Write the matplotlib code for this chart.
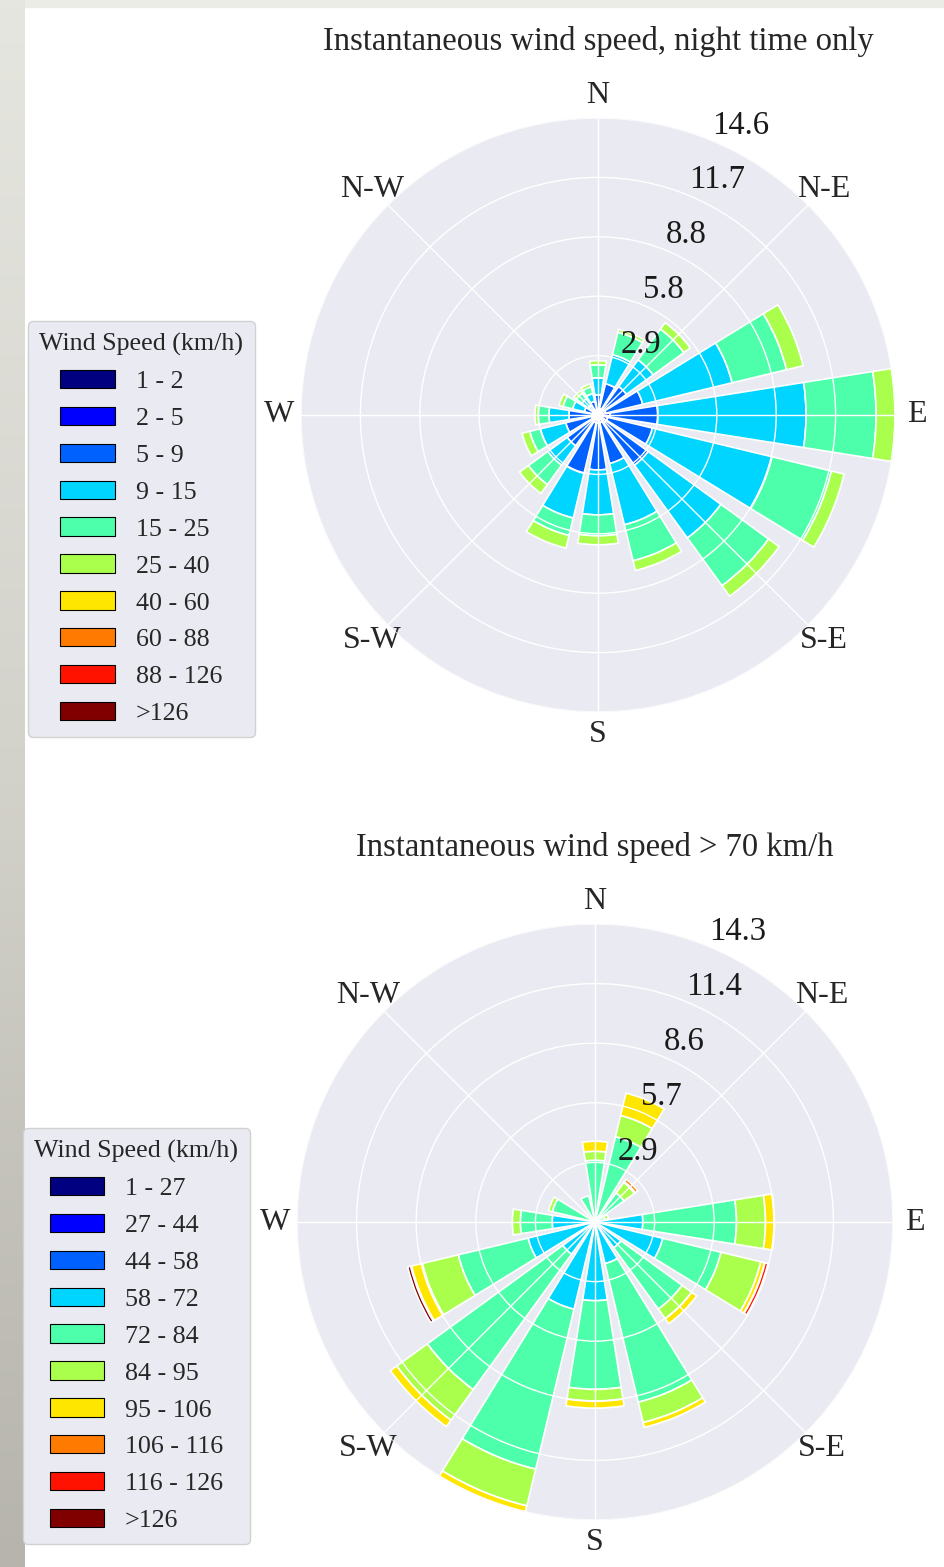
import numpy as np
import matplotlib.pyplot as plt
from matplotlib.patches import Patch, Rectangle
from matplotlib.colors import LinearSegmentedColormap

plt.rcParams['font.family'] = ['Liberation Serif', 'DejaVu Serif']
plt.rcParams['text.color'] = '0.15'
plt.rcParams['xtick.color'] = '0.15'

DIRECTIONS = ['N', 'NNE', 'NE', 'ENE', 'E', 'ESE', 'SE', 'SSE',
              'S', 'SSW', 'SW', 'WSW', 'W', 'WNW', 'NW', 'NNW']
COMPASS_LABELS = ['N', 'N-E', 'E', 'S-E', 'S', 'S-W', 'W', 'N-W']

# --- night time only: frequency (%) per speed bin, one value per direction ---
NIGHT_LABELS = ['1 - 2', '2 - 5', '5 - 9', '9 - 15', '15 - 25',
                '25 - 40', '40 - 60', '60 - 88', '88 - 126', '>126']
night_1_2 = [.10, .10, .10, .10, .15, .15, .15, .10, .10, .10, .10, .10, .10, .10, .10, .10]
night_2_5 = [.20, .20, .25, .29, .44, .34, .34, .29, .29, .29, .20, .20, .20, .15, .15, .15]
night_5_9 = [.69, 1.28, 1.38, 1.87, 2.36, 2.26, 2.56, 2.06, 2.31, 2.56, 1.57, 1.33, 1.13, .44, .34, .44]
night_9_15 = [.84, 1.47, 1.62, 4.52, 7.28, 6.05, 4.42, 3.10, 2.21, 2.26, 1.18, 1.28, .98, .59, .39, .39]
night_15_25 = [.64, 1.13, 1.87, 2.75, 3.44, 3.00, 2.90, 1.82, 1.03, .88, 1.18, .54, .54, .49, .34, .34]
night_25_40 = [.20, .15, .39, .84, .93, .64, .64, .49, .44, .64, .54, .39, .15, .20, .15, .15]
night_40_60 = [0] * 16
night_60_88 = [0] * 16
night_88_126 = [0] * 16
night_126 = [0] * 16
NIGHT = [night_1_2, night_2_5, night_5_9, night_9_15, night_15_25,
         night_25_40, night_40_60, night_60_88, night_88_126, night_126]

# --- gusts > 70 km/h ---
GUST_LABELS = ['1 - 27', '27 - 44', '44 - 58', '58 - 72', '72 - 84',
               '84 - 95', '95 - 106', '106 - 116', '116 - 126', '>126']
gust_1_27 = [0] * 16
gust_27_44 = [0] * 16
gust_44_58 = [0] * 16
gust_58_72 = [0, 0, 0, 0, 2.29, 3.34, 1.53, 2.05, 3.77, 4.30, 1.91, 3.30, 2.05, .24, 0, .14]
gust_72_84 = [2.96, 4.20, 1.72, .48, 4.49, 2.87, 3.63, 6.83, 4.25, 7.88, 8.02, 3.44, 1.53, 1.86, .20, 1.15]
gust_84_95 = [.43, 1.05, .62, .19, 1.39, 1.96, .57, 1.00, .57, 1.81, 1.81, 1.77, .38, .19, 0, 0]
gust_95_106 = [.48, 1.10, .05, 0, .43, .19, .29, .24, .33, .29, .38, .53, 0, 0, 0, 0]
gust_106_116 = [0, 0, .14, 0, 0, .02, 0, 0, 0, 0, 0, 0, 0, 0, 0, 0]
gust_116_126 = [0, 0, 0, 0, 0, .14, 0, 0, 0, 0, 0, .05, 0, 0, 0, 0]
gust_126 = [0, 0, 0, 0, 0, 0, 0, 0, 0, 0, 0, .14, 0, 0, 0, 0]
GUST = [gust_1_27, gust_27_44, gust_44_58, gust_58_72, gust_72_84,
        gust_84_95, gust_95_106, gust_106_116, gust_116_126, gust_126]

COLORS = plt.cm.jet(np.linspace(0, 1, 10))


def draw_rose(fig, ax, bins, labels, title, legend_anchor):
    ax.set_facecolor('#EAEAF2')
    ax.set_theta_zero_location('N')
    ax.set_theta_direction(-1)

    theta = np.deg2rad(np.arange(len(DIRECTIONS)) * 22.5)
    width = 0.8 * 2 * np.pi / len(DIRECTIONS)
    offset = np.zeros(len(DIRECTIONS))
    for values, color in zip(bins, COLORS):
        v = np.asarray(values, dtype=float)
        m = v > 0
        if m.any():
            ax.bar(theta[m], v[m], width=width, bottom=offset[m], color=color,
                   edgecolor='white', linewidth=1.2, align='center')
        offset += v

    rmax = offset.max()
    radii = np.linspace(0, rmax, 6)[1:]
    ax.set_ylim(0, rmax)
    ax.set_yticks(radii)
    ax.set_yticklabels([])
    ax.set_thetagrids(np.arange(0, 360, 45), COMPASS_LABELS)
    ax.tick_params(axis='x', labelsize=23, pad=5.5)
    for r in radii:
        ax.text(np.deg2rad(22.5), r, f'{r:.1f}', ha='left', va='bottom',
                fontsize=23.5, color='0.1')
    ax.grid(color='white', lw=1.0)
    ax.set_axisbelow(False)
    ax.spines['polar'].set_visible(False)
    ax.set_title(title, fontsize=23.5, y=1.1)

    handles = [Patch(facecolor=c, edgecolor='black', linewidth=0.8) for c in COLORS]
    leg = ax.legend(handles, labels, title='Wind Speed (km/h)', loc='upper right',
                    bbox_to_anchor=legend_anchor, bbox_transform=fig.transFigure,
                    borderaxespad=0, fontsize=18.7, title_fontsize=18.7,
                    handlelength=2.1, handleheight=0.7, labelspacing=0.53,
                    handletextpad=0.8, borderpad=0.45, fancybox=True,
                    facecolor='#EAEAF2', edgecolor='0.82', framealpha=1)
    leg.get_frame().set_linewidth(1.0)
    leg._legend_box.sep = 10


W, H = 944, 1567
fig = plt.figure(figsize=(W / 100, H / 100), dpi=100)

# page background strips (screenshot edge)
strip = fig.add_axes([0, 0, 25 / W, 1])
grad = np.linspace(0, 1, 256).reshape(-1, 1)
strip.imshow(grad, aspect='auto',
             cmap=LinearSegmentedColormap.from_list('bg', ['#E6E6E0', '#D2D1CA', '#B6B4AC']))
strip.axis('off')
fig.add_artist(Rectangle((0, 1 - 7 / H), 1, 7 / H, transform=fig.transFigure,
                         color='#ECECE6', zorder=-1))

ax1 = fig.add_axes([301 / W, 1 - 712 / H, 594 / W, 594 / H], projection='polar')
ax2 = fig.add_axes([297 / W, 1 - 1520 / H, 596 / W, 596 / H], projection='polar')

draw_rose(fig, ax1, NIGHT, NIGHT_LABELS, 'Instantaneous wind speed, night time only',
          (255 / W, 1 - 321 / H))
draw_rose(fig, ax2, GUST, GUST_LABELS, 'Instantaneous wind speed > 70 km/h',
          (250 / W, 1 - 1128 / H))

plt.savefig('out.png', dpi=100)
